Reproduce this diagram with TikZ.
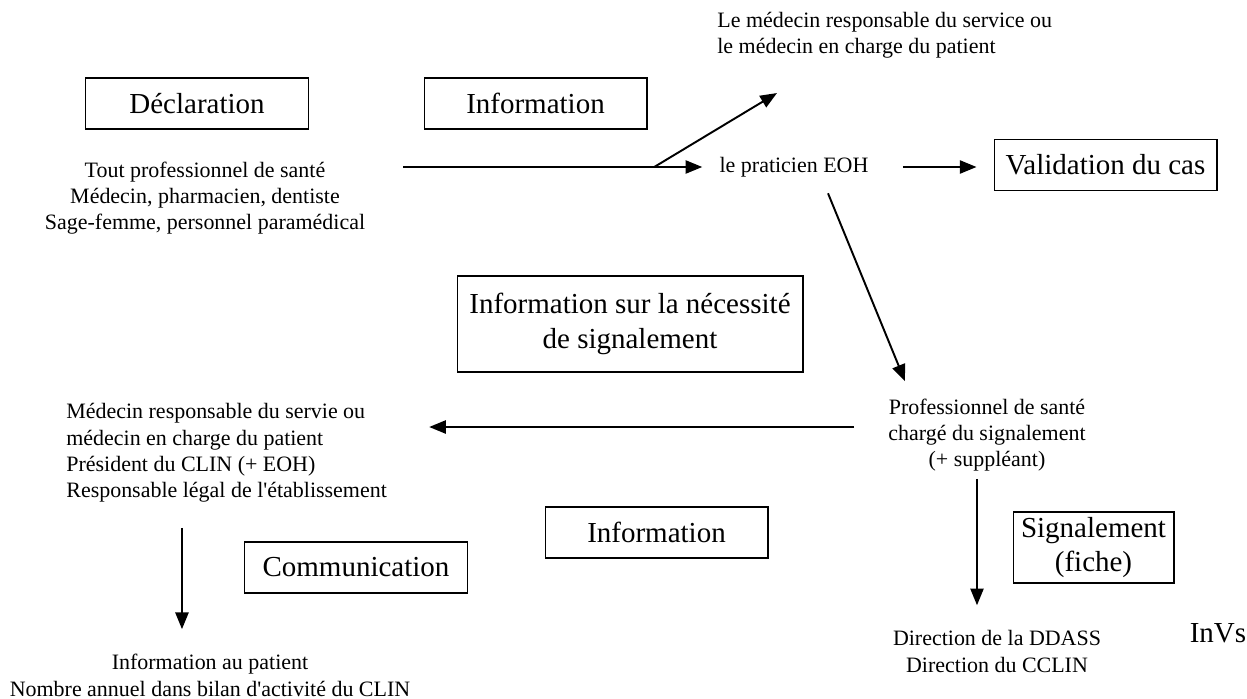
\documentclass[tikz,border=0pt]{standalone}
\usepackage{fontspec}
\setmainfont{Liberation Serif}
\usetikzlibrary{arrows.meta, positioning, calc}

\begin{document}
\begin{tikzpicture}[
  x=0.02cm, y=-0.02cm,
  cadre/.style={draw=black, line width=0.6pt, align=center, inner sep=0pt,
                font=\fontsize{16.5}{19.5}\selectfont,
                minimum width=4.46cm, minimum height=1.02cm},
  texte/.style={align=center, inner sep=0pt, font=\fontsize{12.5}{15}\selectfont},
  fleche/.style={-{Triangle[length=9.5pt,width=7.5pt]}, line width=1.1pt}
]
\useasboundingbox (0,0) rectangle (1247,699);

% cadres
\node[cadre] (decl)   at (197,103.5)  {D\'eclaration};
\node[cadre] (info1)  at (535.5,103.5) {Information};
\node[cadre] (valid)  at (1105.5,165) {Validation du cas};
\node[cadre, minimum width=6.92cm, minimum height=1.92cm] (necess) at (630,324)
     {Information sur la n\'ecessit\'e\\de signalement};
\node[cadre] (comm)   at (356,567.5)  {Communication};
\node[cadre] (info2)  at (656.5,532.5) {Information};
\node[cadre, minimum width=3.22cm, minimum height=1.42cm] (signal) at (1093.5,547.5)
     {Signalement\\(fiche)};
\node[font=\fontsize{16.5}{19.5}\selectfont, inner sep=0pt] (invs) at (1218,633) {InVs};

% acteurs
\node[texte] (tout) at (205,198)
     {Tout professionnel de sant\'e\\M\'edecin, pharmacien, dentiste\\Sage-femme, personnel param\'edical};
\node[texte] (eoh) at (794,167) {le praticien EOH};
\node[texte, align=left, anchor=west] (medecin) at (717,35.5)
     {Le m\'edecin responsable du service ou\\le m\'edecin en charge du patient};
\node[texte] (prof) at (987,435)
     {Professionnel de sant\'e\\charg\'e du signalement\\(+ suppl\'eant)};
\node[texte, align=left, anchor=west] (resp) at (66,453)
     {M\'edecin responsable du servie ou\\m\'edecin en charge du patient\\Pr\'esident du CLIN (+ EOH)\\Responsable l\'egal de l\textquotesingle\'etablissement};
\node[texte] (ddass) at (997,651.5) {Direction de la DDASS\\Direction du CCLIN};
\node[texte] (patient) at (210,675.5)
     {Information au patient\\Nombre annuel dans bilan d\textquotesingle activit\'e du CLIN};

% fleches
\coordinate (branche) at ($(eoh.west)+(-65,0)$);
\draw[fleche, shorten <=0.76cm, shorten >=0.34cm] (tout.east |- eoh.west) -- (eoh.west);
\draw[fleche] (branche) -- ($(medecin.south west)+(60,34)$);
\draw[fleche, shorten <=0.68cm, shorten >=0.34cm] (eoh.east) -- (eoh.east -| valid.west);
\draw[fleche] ($(eoh.south)+(34,16)$) -- ($(prof.north)+(-82,-17)$);
\draw[fleche, shorten <=0.68cm, shorten >=0.84cm]
  ([yshift=0.16cm]prof.west) -- ([yshift=0.16cm]prof.west -| resp.east);
\draw[fleche, shorten <=0.14cm, shorten >=0.5cm]
  ([xshift=-0.2cm]prof.south) -- ([xshift=-0.2cm]prof.south |- ddass.north);
\draw[fleche, shorten <=0.5cm, shorten >=0.5cm]
  ([xshift=2.32cm]resp.south west) -- ([xshift=2.32cm]resp.south west |- patient.north);

\end{tikzpicture}
\end{document}
